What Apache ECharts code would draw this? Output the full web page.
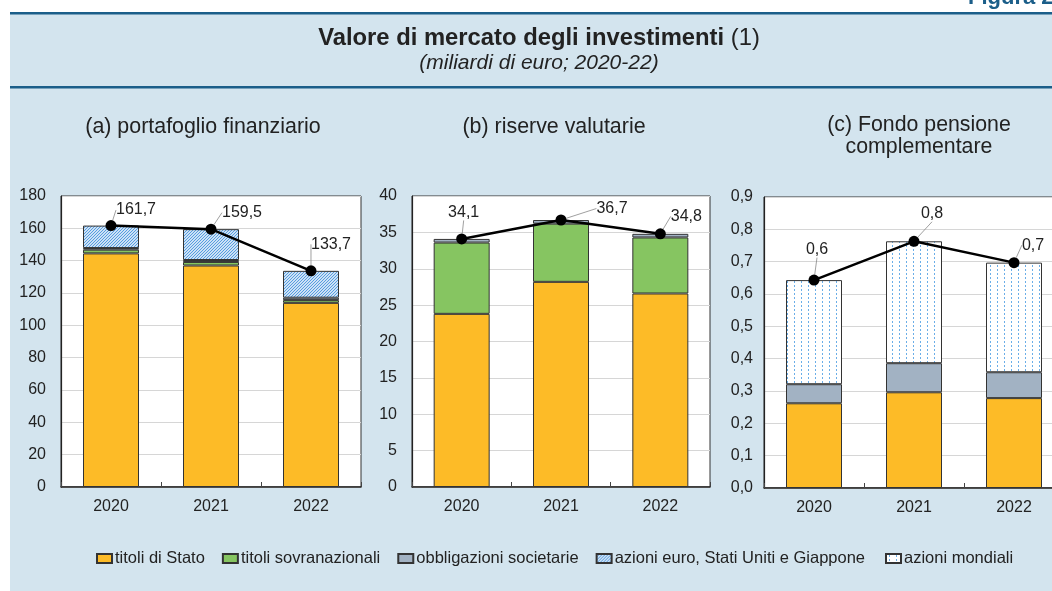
<!DOCTYPE html>
<html><head><meta charset="utf-8">
<script src="https://cdn.jsdelivr.net/npm/echarts@6/dist/echarts.min.js"></script>
<style>html,body{margin:0;padding:0;background:#fff}#c{width:1052px;height:591px}</style>
</head><body><div id="c"></div>
<script>
// ---- data ----
const years = ['2020', '2021', '2022'];
const seriesNames = ['titoli di Stato', 'titoli sovranazionali', 'obbligazioni societarie', 'azioni euro, Stati Uniti e Giappone', 'azioni mondiali'];
// (a) portafoglio finanziario
const aStato = [144.5, 137.0, 113.9];
const aSovran = [2.3, 2.2, 1.7];
const aObblig = [1.0, 1.2, 1.5];
const aAzEuro = [13.9, 19.1, 16.6];
const aTotale = [161.7, 159.5, 133.7];
// (b) riserve valutarie
const bStato = [23.8, 28.2, 26.6];
const bSovran = [9.8, 8.0, 7.7];
const bObblig = [0.5, 0.5, 0.5];
const bTotale = [34.1, 36.7, 34.8];
// (c) Fondo pensione complementare
const cStato = [0.262, 0.296, 0.278];
const cObblig = [0.059, 0.090, 0.080];
const cAzMond = [0.322, 0.377, 0.339];
const cTotale = [0.643, 0.763, 0.697];
// axis ticks
const yA = {min: 0, max: 180, interval: 20};
const yB = {min: 0, max: 40, interval: 5};
const yC = {min: 0, max: 0.9, interval: 0.1};

// ---- styles ----
const FONT = "'Liberation Sans', Arial, Helvetica, sans-serif";
const TXT = '#222';
const COL_STATO = '#fdbb27';
const COL_SOVR = '#86c561';
const COL_OBBL = '#a2b2c3';

function hatchPattern() {
  const c = document.createElement('canvas');
  c.width = 3; c.height = 3;
  const g = c.getContext('2d');
  g.fillStyle = '#ffffff'; g.fillRect(0, 0, 3, 3);
  g.strokeStyle = '#4f98de'; g.lineWidth = 1.1;
  g.beginPath();
  g.moveTo(-1, 4); g.lineTo(4, -1);
  g.moveTo(-1, 1); g.lineTo(1, -1);
  g.moveTo(2, 4); g.lineTo(4, 2);
  g.stroke();
  return c;
}
function dotPattern() {
  const c = document.createElement('canvas');
  c.width = 7; c.height = 4;
  const g = c.getContext('2d');
  g.fillStyle = '#ffffff'; g.fillRect(0, 0, 7, 4);
  g.fillStyle = '#6aaee8';
  g.fillRect(3, 1, 1, 2);
  return c;
}
const HATCH = {image: hatchPattern(), repeat: 'repeat'};
const DOTS = {image: dotPattern(), repeat: 'repeat'};

const colorOf = {
  'titoli di Stato': COL_STATO,
  'titoli sovranazionali': COL_SOVR,
  'obbligazioni societarie': COL_OBBL,
  'azioni euro, Stati Uniti e Giappone': HATCH,
  'azioni mondiali': DOTS
};

const grids = [
  {left: 61, top: 196, width: 300, height: 291},
  {left: 412, top: 196, width: 298, height: 291},
  {left: 764, top: 197, width: 300, height: 291}
];

function bar(name, data, idx) {
  return {
    type: 'bar', name: name, data: data, stack: 's' + idx,
    xAxisIndex: idx, yAxisIndex: idx, barWidth: 56,
    itemStyle: {color: colorOf[name], borderColor: '#333', borderWidth: 1},
    emphasis: {disabled: true}
  };
}
// label offsets (relative to default 'top' position)
const offA = [[25, 3], [31, 2], [20, -8]];
const offB = [[2, -8], [51, 7], [26, 1]];
const offC = [[3, -12], [18, -9], [19, 1]];
function line(data, idx, dec, off) {
  return {
    type: 'line', name: 'totale', data: data, xAxisIndex: idx, yAxisIndex: idx,
    z: 10, symbol: 'circle', symbolSize: 11,
    itemStyle: {color: '#000'}, lineStyle: {color: '#000', width: 2.5},
    label: {show: true, position: 'top', distance: 5, fontFamily: FONT, fontSize: 16, color: TXT,
      formatter: p => p.value.toFixed(dec).replace('.', ',')},
    labelLine: {show: true, lineStyle: {color: '#888', width: 0.8}},
    labelLayout: p => ({dx: off[p.dataIndex][0], dy: off[p.dataIndex][1]}),
    emphasis: {disabled: true}
  };
}
function xAxis(idx) {
  return {
    type: 'category', data: years, gridIndex: idx,
    axisLine: {lineStyle: {color: '#222', width: 1.5}},
    axisTick: {show: true, inside: true, length: 5, lineStyle: {color: '#444'}},
    axisLabel: {fontFamily: FONT, fontSize: 16, color: TXT, margin: 12},
    splitLine: {show: false}
  };
}
function yAxis(idx, sc, dec) {
  return {
    type: 'value', gridIndex: idx, min: sc.min, max: sc.max, interval: sc.interval,
    axisLine: {show: true, lineStyle: {color: '#222', width: 1.2}},
    axisTick: {show: false},
    axisLabel: {fontFamily: FONT, fontSize: 16, color: TXT, margin: dec ? 11 : 15,
      formatter: v => v.toFixed(dec).replace('.', ',')},
    splitLine: {lineStyle: {color: '#d6d6d6', width: 1}}
  };
}
const legendText = {fontFamily: FONT, fontSize: 16.5, color: TXT, padding: [0, 0, 0, -2]};

const option = {
  animation: false,
  backgroundColor: '#d3e4ee',
  textStyle: {fontFamily: FONT},
  graphic: [
    {type: 'rect', shape: {x: 0, y: 0, width: 1052, height: 12}, style: {fill: '#fff'}, silent: true, z: 1},
    {type: 'rect', shape: {x: 0, y: 0, width: 10, height: 591}, style: {fill: '#fff'}, silent: true, z: 1},
    {type: 'rect', shape: {x: 10, y: 12, width: 1042, height: 2.5}, style: {fill: '#1b5e89'}, silent: true, z: 2},
    {type: 'rect', shape: {x: 10, y: 86, width: 1042, height: 2.5}, style: {fill: '#1b5e89'}, silent: true, z: 2},
    {type: 'text', x: 968, y: 9, z: 3, silent: true,
      style: {text: 'Figura 2', font: "bold 22px " + FONT, fill: '#1b5e89', verticalAlign: 'bottom'}},
    {type: 'text', x: 539, y: 38, z: 3, silent: true,
      style: {text: '{b|Valore di mercato degli investimenti} (1)', font: "23.8px " + FONT, fill: TXT,
        align: 'center', verticalAlign: 'middle', rich: {b: {fontWeight: 'bold', fontSize: 23.8, fontFamily: FONT, fill: TXT}}}},
    {type: 'text', x: 539, y: 63, z: 3, silent: true,
      style: {text: '(miliardi di euro; 2020-22)', font: "italic 21px " + FONT, fill: TXT, align: 'center', verticalAlign: 'middle'}},
    {type: 'text', x: 203, y: 127, z: 3, silent: true,
      style: {text: '(a) portafoglio finanziario', font: "21.4px " + FONT, fill: TXT, align: 'center', verticalAlign: 'middle'}},
    {type: 'text', x: 554, y: 127, z: 3, silent: true,
      style: {text: '(b) riserve valutarie', font: "21.4px " + FONT, fill: TXT, align: 'center', verticalAlign: 'middle'}},
    {type: 'text', x: 919, y: 136.5, z: 3, silent: true,
      style: {text: '(c) Fondo pensione\ncomplementare', font: "21.3px " + FONT, lineHeight: 22, fill: TXT, align: 'center', verticalAlign: 'middle'}}
  ],
  legend: [
    {data: seriesNames.slice(0, 4), left: 96, top: 550, itemGap: 17, itemWidth: 15, itemHeight: 9, icon: 'rect',
      selectedMode: false, padding: 0, textStyle: legendText},
    {data: seriesNames.slice(4), left: 885, top: 550, itemWidth: 15, itemHeight: 9, icon: 'rect',
      selectedMode: false, padding: 0, textStyle: legendText}
  ],
  grid: grids.map(g => Object.assign({show: true, backgroundColor: '#fff', borderColor: '#333', borderWidth: 1,
    containLabel: false, outerBoundsMode: 'none'}, g)),
  xAxis: [xAxis(0), xAxis(1), xAxis(2)],
  yAxis: [yAxis(0, yA, 0), yAxis(1, yB, 0), yAxis(2, yC, 1)],
  series: [
    bar(seriesNames[0], aStato, 0), bar(seriesNames[1], aSovran, 0), bar(seriesNames[2], aObblig, 0), bar(seriesNames[3], aAzEuro, 0),
    line(aTotale, 0, 1, offA),
    bar(seriesNames[0], bStato, 1), bar(seriesNames[1], bSovran, 1), bar(seriesNames[2], bObblig, 1),
    line(bTotale, 1, 1, offB),
    bar(seriesNames[0], cStato, 2), bar(seriesNames[2], cObblig, 2), bar(seriesNames[4], cAzMond, 2),
    line(cTotale, 2, 1, offC)
  ]
};
const chart = echarts.init(document.getElementById('c'), null, {renderer: 'canvas'});
chart.setOption(option);
</script></body></html>
